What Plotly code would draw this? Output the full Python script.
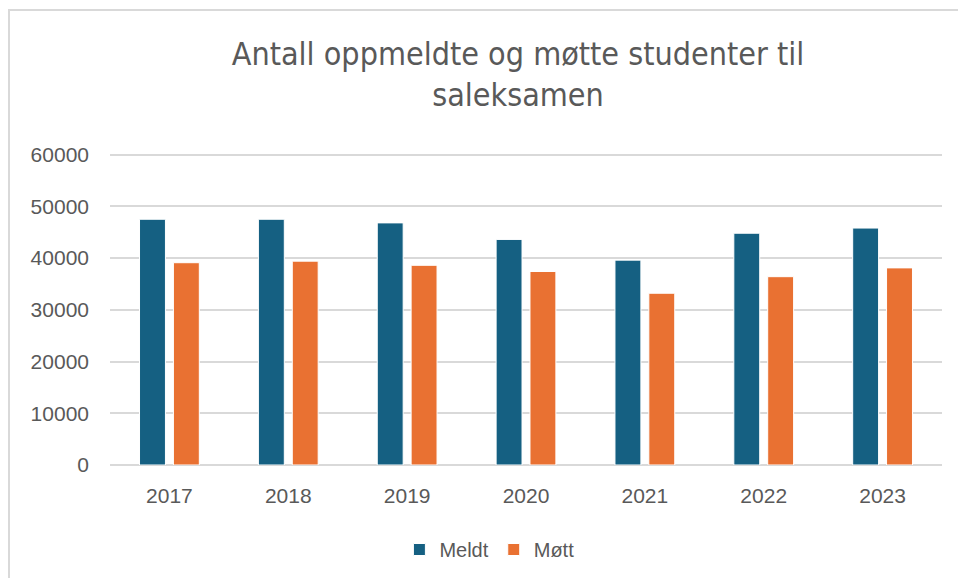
import plotly.graph_objects as go

years = ["2017", "2018", "2019", "2020", "2021", "2022", "2023"]
meldt = [47500, 47500, 46800, 43600, 39600, 44800, 45800]
mott = [39100, 39400, 38600, 37400, 33200, 36400, 38100]
y_ticks = [0, 10000, 20000, 30000, 40000, 50000, 60000]

TXT = "#595959"
GRID = "#d9d9d9"

fig = go.Figure()
fig.add_trace(go.Bar(name="Meldt", x=years, y=meldt,
                     marker=dict(color="#156082", line=dict(color="white", width=1))))
fig.add_trace(go.Bar(name="Møtt", x=years, y=mott,
                     marker=dict(color="#E97132", line=dict(color="white", width=1))))

fig.update_layout(
    width=958, height=578,
    paper_bgcolor="white", plot_bgcolor="white",
    margin=dict(l=110, r=16, t=152, b=113, autoexpand=False),
    barmode="group", bargap=0.43, bargroupgap=0.235,
    font=dict(family="Liberation Sans, Arial, sans-serif", size=21, color=TXT),
    title=dict(
        text="Antall oppmeldte og møtte studenter til<br>saleksamen",
        font=dict(family="Liberation Sans Narrow, DejaVu Sans Condensed, sans-serif", size=32, color=TXT),
        x=0.5407, xanchor="center", xref="container",
        y=0.888, yanchor="top", yref="container",
    ),
    legend=dict(orientation="h", x=0.456, xanchor="center", y=-0.27, yanchor="middle",
                font=dict(size=20, color=TXT), traceorder="normal"),
    xaxis=dict(showgrid=False, showline=False, ticks="", ticklabelstandoff=16,
               automargin=False, tickfont=dict(size=21, color=TXT)),
    yaxis=dict(range=[0, 60500], tickvals=y_ticks, ticktext=[str(v) for v in y_ticks],
               showgrid=True, gridcolor=GRID, gridwidth=2,
               zeroline=True, zerolinecolor=GRID, zerolinewidth=2,
               showline=False, ticks="", ticklabelstandoff=20,
               automargin=False, tickfont=dict(size=21, color=TXT)),
    shapes=[dict(type="rect", xref="paper", yref="paper",
                 x0=-0.1214, x1=1.2, y0=-0.6, y1=1.4535,
                 line=dict(color=GRID, width=2), layer="below")],
    showlegend=True,
)

fig.write_html("out.html", config={"displayModeBar": False},
               post_script="document.body.style.margin='0';document.body.style.overflow='hidden';")
